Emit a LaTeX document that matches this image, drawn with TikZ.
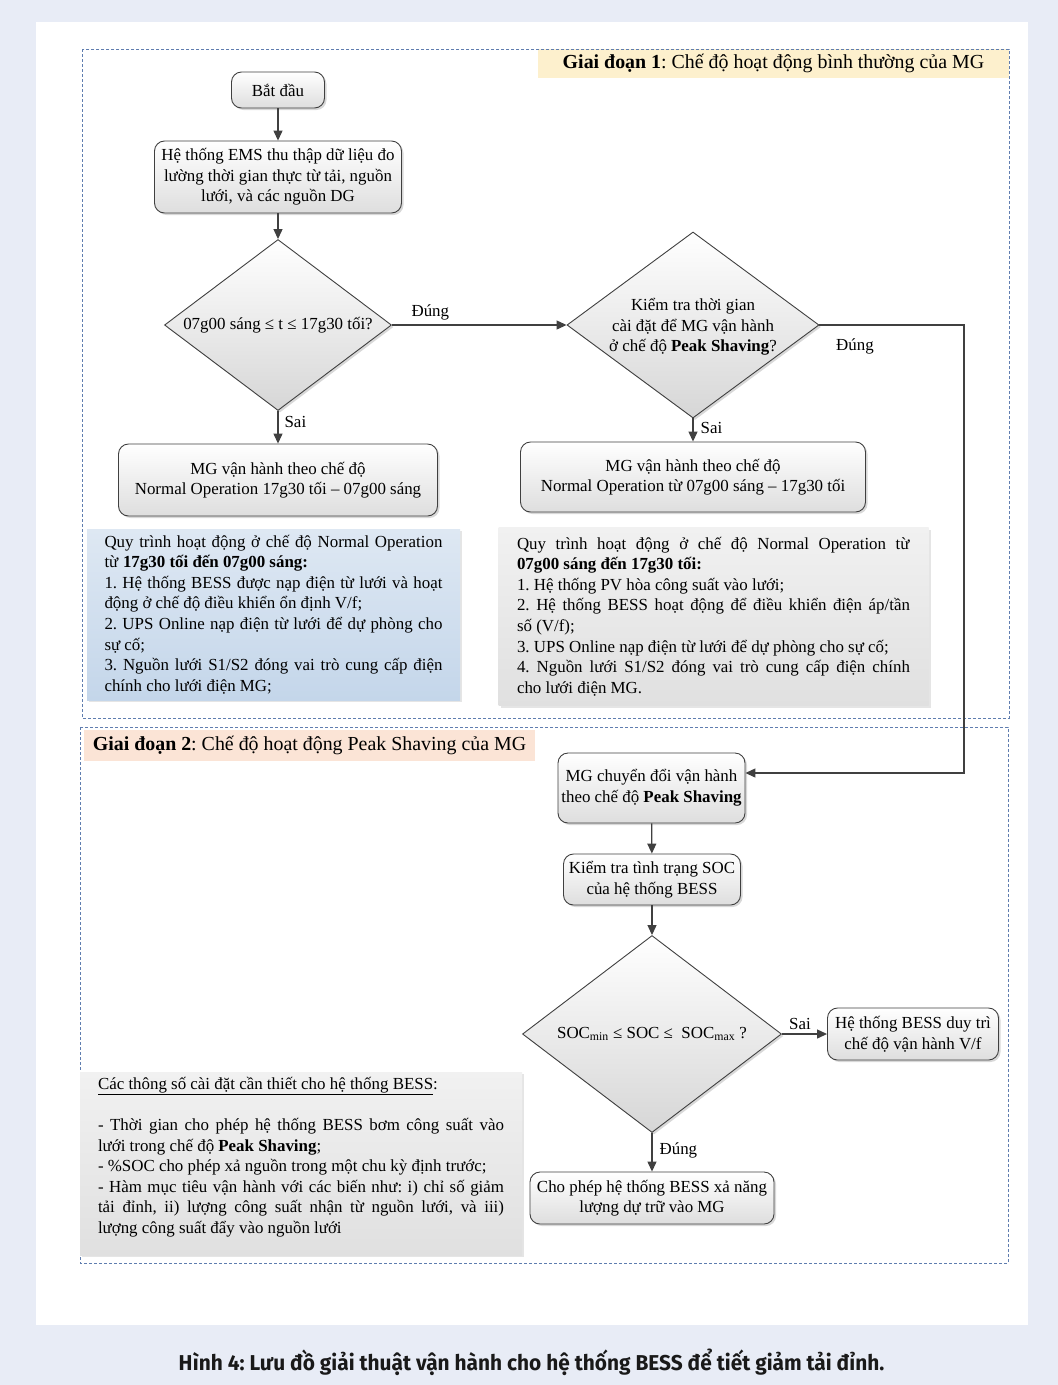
\documentclass[tikz,border=0pt]{standalone}
\usepackage{fontspec}
\setmainfont{Liberation Serif}
\newfontfamily\capfont[FakeStretch=0.97]{Fira Sans}
\usetikzlibrary{shapes.geometric,arrows.meta,shadows}
\frenchspacing

\definecolor{pagebg}{RGB}{232,236,246}
\definecolor{framec}{RGB}{95,125,175}
\definecolor{linec}{RGB}{64,64,64}
\definecolor{titleA}{RGB}{253,240,205}
\definecolor{titleB}{RGB}{251,228,214}
\definecolor{blueA}{RGB}{222,232,243}
\definecolor{blueB}{RGB}{196,214,234}
\definecolor{grayA}{RGB}{241,241,241}
\definecolor{grayB}{RGB}{224,224,224}

\begin{document}
\begin{tikzpicture}[x=1pt, y=-1pt, font=\fontsize{16.9}{20.6}\selectfont,
	box/.style={draw=linec, line width=0.9pt, rounded corners=10pt, top color=white, bottom color=black!13, align=center, inner sep=3pt, drop shadow={shadow xshift=2pt, shadow yshift=-2pt, opacity=.3}},
	dec/.style={diamond, draw=linec, line width=0.9pt, top color=white, bottom color=black!16, inner sep=0pt, drop shadow={shadow xshift=2pt, shadow yshift=-2pt, opacity=.3}},
	info/.style={inner sep=0pt, drop shadow={shadow xshift=2pt, shadow yshift=-2pt, opacity=.2}},
	frame/.style={draw=framec, line width=0.8pt, dash pattern=on 3pt off 2pt},
	arr/.style={draw=linec, line width=1.2pt, -{Triangle[length=10pt,width=9pt]}},
	lbl/.style={inner sep=1pt}]
	% page and panel
	\useasboundingbox (0,0) rectangle (1058,1385);
	\fill[pagebg] (0,0) rectangle (1058,1385);
	\fill[white] (36,22) rectangle (1028,1325);
	% stage titles
	\node[fill=titleA, minimum width=471, minimum height=29, font=\fontsize{19.9}{23}\selectfont] (title1) at (773.5,63.5) {\textbf{Giai đoạn 1}: Chế độ hoạt động bình thường của MG};
	\node[fill=titleB, minimum width=451, minimum height=31, font=\fontsize{19.9}{23}\selectfont] (title2) at (309.5,745.5) {\textbf{Giai đoạn 2}: Chế độ hoạt động Peak Shaving của MG};
	\draw[frame] (82,49) rectangle (1009,718);
	\draw[frame] (80,727) rectangle (1008,1263);
	% stage 1
	\node[box, minimum width=93, minimum height=36] (start) at (278,90) {Bắt đầu};
	\node[box, minimum width=247, minimum height=72] (ems) at (278,177) {Hệ thống EMS thu thập dữ liệu đo\\lường thời gian thực từ tải, nguồn\\lưới, và các nguồn DG};
	\node[dec, minimum width=227, minimum height=171] (d1) at (278,325) {};
	\node[lbl] (d1t) at (d1) {07g00 sáng ≤ t ≤ 17g30 tối?};
	\node[box, minimum width=319, minimum height=72] (n1) at (278,480) {MG vận hành theo chế độ\\Normal Operation 17g30 tối – 07g00 sáng};
	\node[dec, minimum width=252, minimum height=186] (d2) at (693,325) {};
	\node[lbl, align=center] (d2t) at (693,327) {Kiểm tra thời gian\\cài đặt để MG vận hành\\ở chế độ \textbf{Peak Shaving}?};
	\node[box, minimum width=345, minimum height=70] (n2) at (693,477) {MG vận hành theo chế độ\\Normal Operation từ 07g00 sáng – 17g30 tối};
	\node[info, top color=blueA, bottom color=blueB, minimum width=373, minimum height=171] (info1) at (273.5,614.5) {\begin{minipage}{338pt}
		Quy trình hoạt động ở chế độ Normal Operation\linebreak
		từ \textbf{17g30 tối đến 07g00 sáng:}\\
		1. Hệ thống BESS được nạp điện từ lưới và hoạt\linebreak
		động ở chế độ điều khiển ổn định V/f;\\
		2. UPS Online nạp điện từ lưới để dự phòng cho\linebreak
		sự cố;\\
		3. Nguồn lưới S1/S2 đóng vai trò cung cấp điện\linebreak
		chính cho lưới điện MG;
	\end{minipage}};
	\node[info, top color=grayA, bottom color=grayB, minimum width=430, minimum height=178] (info2) at (713.5,616.5) {\begin{minipage}{393pt}
		Quy trình hoạt động ở chế độ Normal Operation từ\linebreak
		\textbf{07g00 sáng đến 17g30 tối:}\\
		1. Hệ thống PV hòa công suất vào lưới;\\
		2. Hệ thống BESS hoạt động để điều khiển điện áp/tần\linebreak
		số (V/f);\\
		3. UPS Online nạp điện từ lưới để dự phòng cho sự cố;\\
		4. Nguồn lưới S1/S2 đóng vai trò cung cấp điện chính\linebreak
		cho lưới điện MG.
	\end{minipage}};
	% stage 2
	\coordinate (turn) at (964,773);
	\node[box, minimum width=187, minimum height=70, inner sep=1pt] (ps) at (651.5,788) {MG chuyển đổi vận hành\\theo chế độ \textbf{Peak Shaving}};
	\node[box, minimum width=177, minimum height=51] (soc) at (652,879.5) {Kiểm tra tình trạng SOC\\của hệ thống BESS};
	\node[dec, minimum width=259, minimum height=197] (d3) at (652,1034) {};
	\node[lbl] (d3t) at (d3) {SOC\textsubscript{min} ≤ SOC ≤~ SOC\textsubscript{max} ?};
	\node[box, minimum width=171, minimum height=52] (vf) at (913,1034) {Hệ thống BESS duy trì\\chế độ vận hành V/f};
	\node[box, minimum width=244, minimum height=52] (dis) at (652,1198) {Cho phép hệ thống BESS xả năng\\lượng dự trữ vào MG};
	\node[info, top color=grayA, bottom color=grayB, minimum width=442, minimum height=183] (info3) at (301,1163.5) {\begin{minipage}[c][173pt][t]{406pt}
		\underline{Các thông số cài đặt cần thiết cho hệ thống BESS}:\\[20.6pt]
		- Thời gian cho phép hệ thống BESS bơm công suất vào\linebreak
		lưới trong chế độ \textbf{Peak Shaving};\\
		- \%SOC cho phép xả nguồn trong một chu kỳ định trước;\\
		- Hàm mục tiêu vận hành với các biến như: i) chỉ số giảm\linebreak
		tải đỉnh, ii) lượng công suất nhận từ nguồn lưới, và iii)\linebreak
		lượng công suất đẩy vào nguồn lưới
	\end{minipage}};
	% connectors
	\draw[arr] (start) -- (ems);
	\draw[arr] (ems) -- (d1);
	\draw[arr] (d1) -- (n1) node[lbl, pos=0.35, right=5pt] (sai1) {Sai};
	\draw[arr] (d1) -- (d2) node[lbl, pos=0.22, above=3pt] (dung1) {Đúng};
	\draw[arr] (d2) -- (n2) node[lbl, pos=0.4, right=6pt] (sai2) {Sai};
	\draw[arr] (d2.east) -| (turn) -- (turn -| ps.east);
	\node[lbl] (dung2) at (855,346) {Đúng};
	\draw[arr] (ps) -- (soc);
	\draw[arr] (soc) -- (d3);
	\draw[arr] (d3) -- (vf) node[lbl, pos=0.4, above=3pt] (sai3) {Sai};
	\draw[arr] (d3) -- (dis) node[lbl, pos=0.45, right=6pt] (dung3) {Đúng};
	% caption
	\node[font=\capfont\bfseries\fontsize{21.5}{25}\selectfont, text=black!90] (cap) at (531.5,1362) {Hình 4: Lưu đồ giải thuật vận hành cho hệ thống BESS để tiết giảm tải đỉnh.};
\end{tikzpicture}
\end{document}
